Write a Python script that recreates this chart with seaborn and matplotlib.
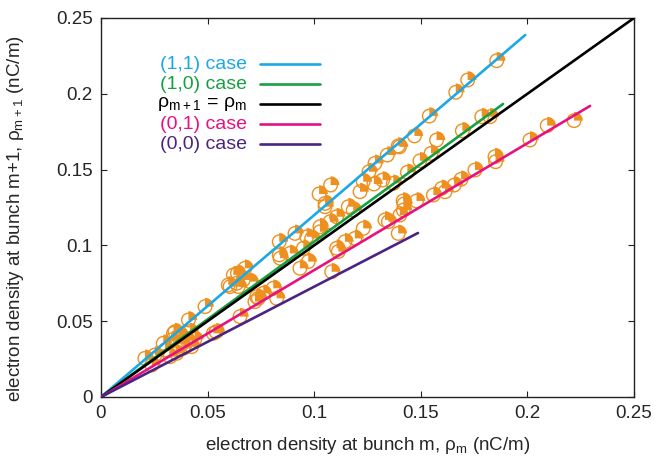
import numpy as np
import pandas as pd
import matplotlib
matplotlib.use("Agg")
import matplotlib.pyplot as plt
from matplotlib.path import Path
from matplotlib.ticker import FuncFormatter
import seaborn as sns

# measured points (rho_m, rho_m+1)
x_pts = [0.1856, 0.1720, 0.1664, 0.1540, 0.1470, 0.1394, 0.1400, 0.1343, 0.1285, 0.1257,
         0.1230, 0.1215, 0.1077, 0.1023, 0.1280, 0.1321, 0.1371, 0.1051, 0.1051, 0.0910,
         0.0836, 0.0675, 0.0621, 0.0605, 0.0640,
         0.1574, 0.1548, 0.1496, 0.1695, 0.1786, 0.1825, 0.1437, 0.1160, 0.1183, 0.1105,
         0.1074, 0.1027, 0.1027, 0.0965, 0.0988, 0.0949, 0.0886, 0.0836, 0.0840, 0.0972,
         0.0933, 0.0667, 0.0636, 0.0699, 0.0597, 0.0644, 0.0488, 0.0410,
         0.2219, 0.2093, 0.2012, 0.1848, 0.1851, 0.1754, 0.1689, 0.1657, 0.1598, 0.1614,
         0.1559, 0.1480, 0.1417, 0.1421, 0.1418, 0.1402, 0.1348, 0.1332, 0.1394, 0.1230,
         0.1191, 0.1144, 0.1105, 0.1113, 0.1082, 0.0808, 0.0761, 0.0738, 0.0722, 0.0824,
         0.0730, 0.0652, 0.0527, 0.0540,
         0.0417, 0.0347, 0.0363, 0.0402, 0.0425, 0.0386, 0.0292, 0.0300, 0.0253, 0.0206,
         0.0238, 0.0324, 0.0355, 0.0331, 0.0370, 0.0440, 0.0380, 0.0340]
y_pts = [0.2218, 0.2091, 0.2010, 0.1853, 0.1722, 0.1656, 0.1650, 0.1596, 0.1541, 0.1486,
         0.1420, 0.1354, 0.1398, 0.1339, 0.1405, 0.1431, 0.1409, 0.1277, 0.1255, 0.1079,
         0.1024, 0.0849, 0.0805, 0.0728, 0.0816,
         0.1695, 0.1607, 0.1558, 0.1756, 0.1849, 0.1849, 0.1482, 0.1255, 0.1233, 0.1189,
         0.1156, 0.1123, 0.1090, 0.1057, 0.1046, 0.0981, 0.0947, 0.0937, 0.0915, 0.0893,
         0.0849, 0.0772, 0.0750, 0.0761, 0.0739, 0.0728, 0.0596, 0.0508,
         0.1823, 0.1790, 0.1695, 0.1585, 0.1552, 0.1497, 0.1436, 0.1398, 0.1376, 0.1354,
         0.1332, 0.1293, 0.1293, 0.1273, 0.1233, 0.1200, 0.1156, 0.1168, 0.1079, 0.1112,
         0.1046, 0.1024, 0.0981, 0.0959, 0.0826, 0.0717, 0.0684, 0.0651, 0.0629, 0.0651,
         0.0661, 0.0530, 0.0420, 0.0430,
         0.0431, 0.0431, 0.0398, 0.0376, 0.0332, 0.0321, 0.0354, 0.0310, 0.0277, 0.0255,
         0.0211, 0.0266, 0.0288, 0.0376, 0.0410, 0.0380, 0.0350, 0.0420]

# fitted lines through the origin: end points
line_labels = ['(1,1) case', '(1,0) case', r'ρ$_\mathregular{m+1}$ = ρ$_\mathregular{m}$',
               '(0,1) case', '(0,0) case']
line_colors = ['#1ba9e5', '#17a043', '#000000', '#e6127f', '#4a2483']
line_x_end = [0.199, 0.1886, 0.25, 0.2294, 0.1487]
line_y_end = [0.2388, 0.1933, 0.25, 0.1920, 0.1082]

ticks = [0, 0.05, 0.1, 0.15, 0.2, 0.25]
orange = '#ee9020'

sns.set_style('ticks')
plt.rcParams['font.family'] = ['Liberation Sans', 'DejaVu Sans']

fig = plt.figure(figsize=(6.67, 4.58), dpi=100)
ax = fig.add_axes([0.1514, 0.1332, 0.7991, 0.8275])

df = pd.DataFrame({'x': x_pts, 'y': y_pts})
sns.scatterplot(data=df, x='x', y='y', marker='o', s=95, facecolor='none',
                edgecolor=orange, linewidth=1.0, ax=ax, zorder=2)

# quarter pie marker (upper right); a symmetric bounding point keeps it centred
ang = np.linspace(0, np.pi / 2, 16)
wverts = np.vstack([[0, 0], np.column_stack([np.cos(ang), np.sin(ang)]), [0, 0]])
wedge = Path(wverts, closed=True)
sns.scatterplot(data=df, x='x', y='y', marker=wedge, s=160, color=orange,
                edgecolor='none', linewidth=0, ax=ax, zorder=2)

for lab, col, xe, ye in zip(line_labels, line_colors, line_x_end, line_y_end):
    ldf = pd.DataFrame({'x': [0, xe], 'y': [0, ye]})
    sns.lineplot(data=ldf, x='x', y='y', color=col, linewidth=1.9, ax=ax, zorder=3)

# key, gnuplot style: text right aligned, sample to the right
for i, (lab, col) in enumerate(zip(line_labels, line_colors)):
    yy = 0.878 - i * 0.0528
    ax.text(0.274, yy, lab, color=col, ha='right', va='center', fontsize=14,
            transform=ax.transAxes)
    ax.plot([0.298, 0.411], [yy, yy], color=col, linewidth=1.9, transform=ax.transAxes)

ax.set_xlim(0, 0.25)
ax.set_ylim(0, 0.25)
ax.set_xticks(ticks)
ax.set_yticks(ticks)
fmt = FuncFormatter(lambda v, p: '%g' % v)
ax.xaxis.set_major_formatter(fmt)
ax.yaxis.set_major_formatter(fmt)
ax.tick_params(direction='in', top=True, right=True, length=4.5, width=0.8,
               labelsize=13.5, pad=6, color='#222222')
for sp in ax.spines.values():
    sp.set_visible(True)
    sp.set_color('#222222')
    sp.set_linewidth(1.0)

ax.set_xlabel(r'electron density at bunch m, ρ$_\mathregular{m}$ (nC/m)', fontsize=13.5)
ax.set_ylabel(r'electron density at bunch m+1, ρ$_\mathregular{m+1}$ (nC/m)', fontsize=13.5)
ax.xaxis.set_label_coords(0.5, -0.1)
ax.yaxis.set_label_coords(-0.14, 0.47)

fig.savefig('out.png', dpi=100)
